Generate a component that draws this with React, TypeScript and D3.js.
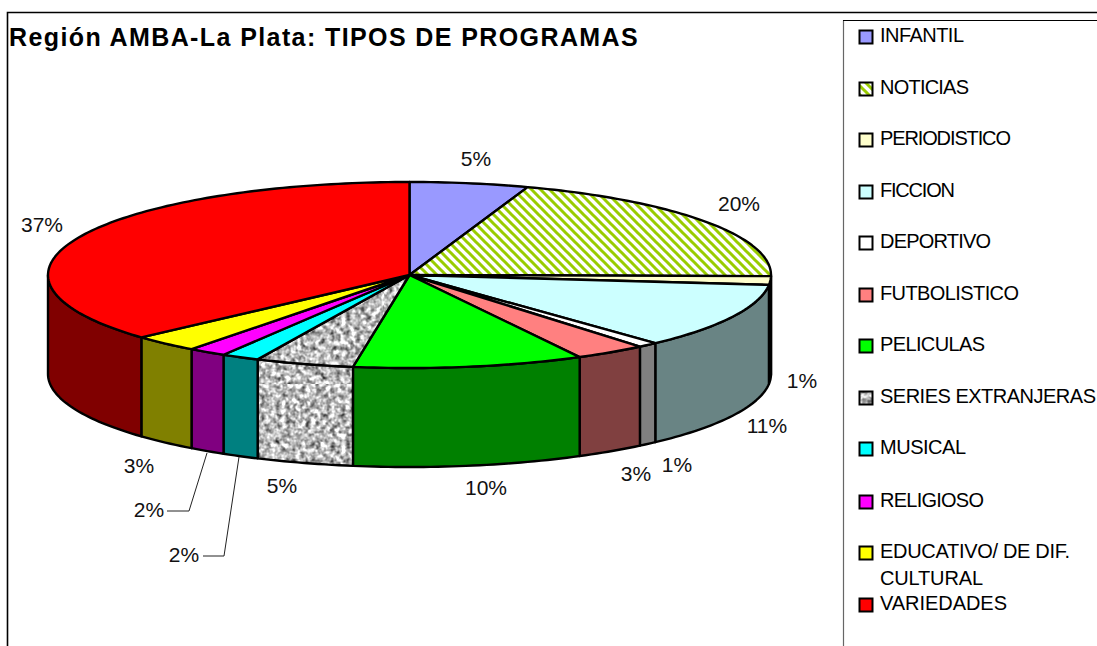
import React from "react";
import * as d3 from "d3";

const categories = ["INFANTIL","NOTICIAS","PERIODISTICO","FICCION","DEPORTIVO","FUTBOLISTICO","PELICULAS","SERIES EXTRANJERAS","MUSICAL","RELIGIOSO","EDUCATIVO/ DE DIF. CULTURAL","VARIEDADES"];
const values = [5.3,19.9,1.5,11.4,0.9,3.2,10.3,4.4,1.7,1.7,3.0,36.7];
const valueLabels = ["5%","20%","1%","11%","1%","3%","10%","5%","2%","2%","3%","37%"];
const topColors = ["#9999ff","url(#stripes)","#ffffcc","#ccffff","#ffffff","#ff8080","#00ff00","url(#granite)","#00ffff","#ff00ff","#ffff00","#ff0000"];
const sideColors = ["#4c4c80","#4c6600","#808066","#698484","#808080","#804040","#008000","url(#granite)","#008080","#800080","#808000","#800000"];

const W = 1097, H = 646;
const cx = 409.5, cy = 275, rx = 361.5, ry = 93, depth = 99;
const labelPos: [number, number][] = [[476,166],[739,211],[802,388],[767,433],[677,472],[636,481],[486,495],[282,493],[184,562],[149,517],[139,473],[42,232]];
const legendBaselines = [42,94,145,197,248,300,351,403,454,507,558,610];
const legendWidths = [[84],[89],[131],[75],[111],[139],[105],[216],[86],[104],[190,103],[127]];
const leaders: [number, number][][] = [[[207,453],[189,511],[167,511]],[[239,457],[224,556],[203,556]]];

const slices = d3.pie<number>().sort(null).value((d) => d)(values);
const px = (a: number) => cx + rx * Math.sin(a);
const py = (a: number) => cy - ry * Math.cos(a);
const samples = (a0: number, a1: number) => {
  const n = Math.max(2, Math.ceil((a1 - a0) / 0.02));
  return d3.range(n + 1).map((i) => a0 + ((a1 - a0) * i) / n);
};
const line = d3.line<[number, number]>();
const topPath = (a0: number, a1: number) =>
  line([[cx, cy], ...samples(a0, a1).map((a) => [px(a), py(a)] as [number, number])]) + "Z";
const wallPath = (a0: number, a1: number) => {
  const s = samples(a0, a1);
  return line([
    ...s.map((a) => [px(a), py(a)] as [number, number]),
    ...s.slice().reverse().map((a) => [px(a), py(a) + depth] as [number, number]),
  ]) + "Z";
};
const LO = Math.PI / 2, HI = (3 * Math.PI) / 2;
const font = "'Liberation Sans', Arial, sans-serif";

export default function App() {
  const legendLines = categories.map((c) => (c.startsWith("EDUCATIVO") ? ["EDUCATIVO/ DE DIF.", "CULTURAL"] : [c]));
  return (
    <svg width={W} height={H} viewBox={`0 0 ${W} ${H}`} style={{ position: "absolute", left: 0, top: 0, background: "#fff" }} fontFamily={font}>
      <defs>
        <pattern id="stripes" width="9" height="9" patternUnits="userSpaceOnUse">
          <rect width="9" height="9" fill="#fff" />
          <path d="M0,0L9,9M-9,0L9,18M0,-9L18,9" stroke="#99cc00" strokeWidth="3" />
        </pattern>
        <filter id="noise" x="0" y="0" width="100%" height="100%" colorInterpolationFilters="sRGB">
          <feTurbulence type="fractalNoise" baseFrequency="0.2" numOctaves="2" seed="7" />
          <feColorMatrix type="matrix" values="1 1 0 0 -0.27  1 1 0 0 -0.27  1 1 0 0 -0.27  0 0 0 0 1" />
        </filter>
        <pattern id="granite" width="128" height="128" patternUnits="userSpaceOnUse">
          <rect width="128" height="128" filter="url(#noise)" />
        </pattern>
      </defs>

      <path d={`M7.5,646V12.5H${W}`} fill="none" stroke="#000" strokeWidth="1.6" />
      <path d={`M843.5,646V20.5`} fill="none" stroke="#666" strokeWidth="1.2" />
      <path d={`M843,20.5H${W}`} fill="none" stroke="#000" strokeWidth="1" />

      <text x="9" y="46" fontSize="25" fontWeight="bold" letterSpacing="1.4">Región AMBA-La Plata: TIPOS DE PROGRAMAS</text>

      {slices.map((s, i) => {
        const a0 = Math.max(s.startAngle, LO), a1 = Math.min(s.endAngle, HI);
        return a1 > a0 ? (
          <path key={i} d={wallPath(a0, a1)} fill={sideColors[i]} stroke="#000" strokeWidth="2.4" strokeLinejoin="round" />
        ) : null;
      })}
      {slices.map((s, i) => (
        <path key={i} d={topPath(s.startAngle, s.endAngle)} fill={topColors[i]} stroke="#000" strokeWidth="2.4" strokeLinejoin="round" />
      ))}

      {leaders.map((l, i) => (
        <path key={i} d={line(l)!} fill="none" stroke="#222" strokeWidth="1" />
      ))}
      {valueLabels.map((t, i) => (
        <text key={i} x={labelPos[i][0]} y={labelPos[i][1]} fontSize="21" textAnchor="middle" fill="#111">{t}</text>
      ))}

      {categories.map((c, i) => (
        <g key={c}>
          <rect x="859.5" y={legendBaselines[i] - 11.5} width="13" height="13" fill={topColors[i]} stroke="#000" strokeWidth="2" />
          {legendLines[i].map((t, j) => (
            <text key={t} x="880" y={legendBaselines[i] + j * 27} fontSize="20" textLength={legendWidths[i][j]} lengthAdjust="spacing" fill="#000">{t}</text>
          ))}
        </g>
      ))}
    </svg>
  );
}
